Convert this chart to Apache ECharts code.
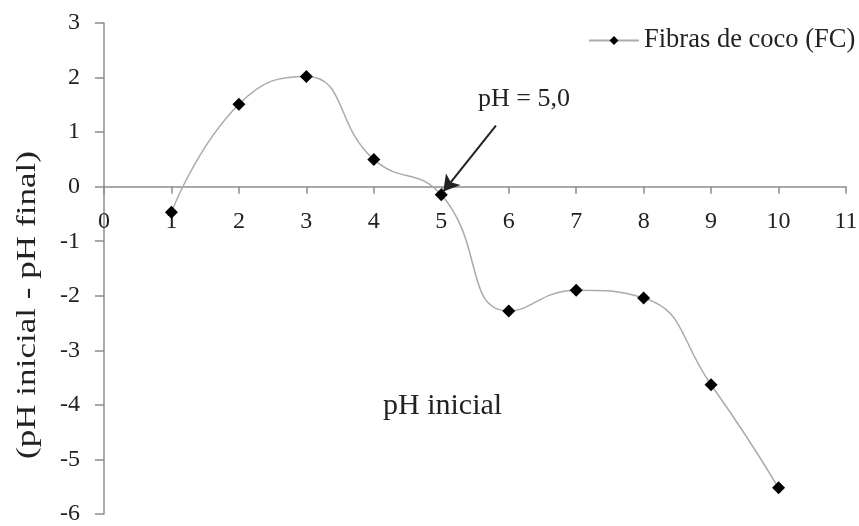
<!DOCTYPE html>
<html>
<head>
<meta charset="utf-8">
<script src="https://cdn.jsdelivr.net/npm/echarts@6/dist/echarts.min.js"></script>
<style>html,body{margin:0;padding:0;background:#fff}#c{width:859px;height:526px}</style>
</head>
<body>
<div id="c"></div>
<script>
var xValues = [1, 2, 3, 4, 5, 6, 7, 8, 9, 10];
var yValues = [-0.47, 1.51, 2.02, 0.50, -0.15, -2.28, -1.90, -2.04, -3.63, -5.52];
var seriesName = 'Fibras de coco (FC)';
var arrowFrom = [5.81, 1.12];
var arrowTo = [5.03, -0.09];

var font = 'Liberation Serif, Times New Roman, serif';
var gridTop = 23, gridBottom = 12, chartH = 526;
var yMin = -6, yMax = 3;
var plotH = chartH - gridTop - gridBottom;
var zeroOffset = -plotH * (0 - yMin) / (yMax - yMin);

var chart = echarts.init(document.getElementById('c'));
chart.setOption({
  animation: false,
  grid: {left: 104, right: 13, top: gridTop, bottom: gridBottom, containLabel: false, outerBoundsMode: 'none'},
  legend: {
    left: 583, top: 22,
    itemWidth: 50, itemHeight: 11, itemGap: 4,
    textStyle: {fontFamily: font, fontSize: 26.5, color: '#222'},
    data: [seriesName]
  },
  xAxis: {
    type: 'value', min: 0, max: 11, interval: 1,
    position: 'bottom', offset: zeroOffset,
    axisLine: {onZero: false, lineStyle: {color: '#8c8c8c', width: 1.5}},
    axisTick: {show: true, length: 7, lineStyle: {color: '#8c8c8c', width: 1.5}},
    axisLabel: {fontFamily: font, fontSize: 24, color: '#222', margin: 23},
    splitLine: {show: false}
  },
  yAxis: {
    type: 'value', min: yMin, max: yMax, interval: 1,
    axisLine: {show: true, lineStyle: {color: '#8c8c8c', width: 1.5}},
    axisTick: {show: true, length: 9, lineStyle: {color: '#8c8c8c', width: 1.5}},
    axisLabel: {fontFamily: font, fontSize: 24, color: '#222', margin: 24},
    splitLine: {show: false}
  },
  series: [{
    name: seriesName,
    type: 'line',
    smooth: 0.5,
    data: xValues.map(function (x, i) { return [x, yValues[i]]; }),
    symbol: 'diamond',
    symbolSize: 13,
    itemStyle: {color: '#000'},
    lineStyle: {color: '#aaaaaa', width: 1.5},
    markLine: {
      silent: true,
      symbol: ['none', 'arrow'],
      symbolSize: [14, 16],
      label: {show: false},
      lineStyle: {color: '#222', width: 2, type: 'solid'},
      data: [[{coord: arrowFrom}, {coord: arrowTo}]]
    }
  }],
  graphic: [
    {type: 'text', left: 478, top: 86, style: {text: 'pH = 5,0', font: '26px ' + font, fill: '#222'}},
    {type: 'text', left: 383, top: 391, style: {text: 'pH inicial', font: '30px ' + font, fill: '#222'}},
    {type: 'text', x: 28, y: 305, rotation: Math.PI / 2, scaleX: 1.3, scaleY: 1,
     style: {text: '(pH inicial - pH final)', font: '27px ' + font, fill: '#222', align: 'center', verticalAlign: 'middle'}}
  ]
});
</script>
</body>
</html>
